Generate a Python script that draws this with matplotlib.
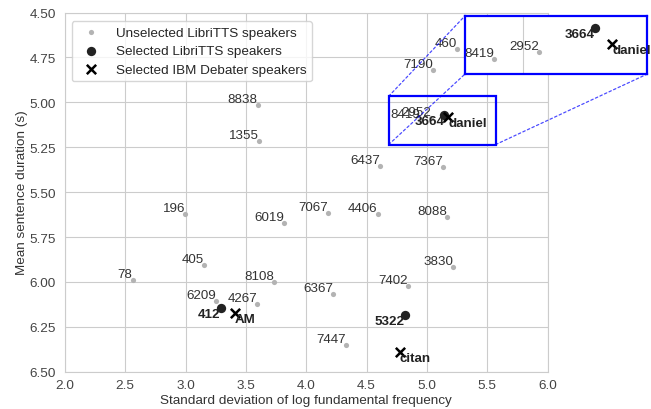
import matplotlib
matplotlib.use("Agg")
import matplotlib.pyplot as plt
import seaborn as sns
from matplotlib.patches import Rectangle, ConnectionPatch

# ---- data ----
unsel_names = ["460", "7190", "8838", "1355", "6437", "7367", "196", "6019", "7067",
               "4406", "8088", "405", "78", "8108", "3830", "7402", "6367", "6209",
               "4267", "7447", "8419", "2952"]
unsel_x = [5.246, 5.050, 3.597, 3.610, 4.610, 5.135, 2.997, 3.815, 4.177,
           4.591, 5.166, 3.154, 2.561, 3.732, 5.215, 4.842, 4.221, 3.251,
           3.594, 4.326, 4.941, 5.031]
unsel_y = [4.703, 4.820, 5.015, 5.214, 5.356, 5.359, 5.622, 5.674, 5.616,
           5.624, 5.639, 5.904, 5.989, 5.999, 5.919, 6.023, 6.069, 6.106,
           6.123, 6.351, 5.096, 5.090]

sel_names = ["412", "5322", "3664"]
sel_x = [3.290, 4.818, 5.143]
sel_y = [6.145, 6.184, 5.072]

ibm_names = ["AM", "citan", "daniel"]
ibm_x = [3.409, 4.776, 5.178]
ibm_y = [6.173, 6.389, 5.084]

xticks = [2.0, 2.5, 3.0, 3.5, 4.0, 4.5, 5.0, 5.5, 6.0]
yticks = [4.50, 4.75, 5.00, 5.25, 5.50, 5.75, 6.00, 6.25, 6.50]

# zoom region shown in inset and highlighted box
inset_xlim = (4.883, 5.248)
inset_ylim = (5.1073, 5.0625)
box_x0, box_y0, box_w, box_h = 4.683, 4.966, 0.886, 0.269

sns.set_style("whitegrid")
plt.rcParams['font.family'] = ['Liberation Sans', 'DejaVu Sans']
plt.rcParams['font.size'] = 9.7

fig = plt.figure(figsize=(6.51, 4.10), dpi=100)
ax = fig.add_axes([0.0998, 0.091, 0.7415, 0.876])

LBL = 9.6


def draw(a):
    a.scatter(unsel_x, unsel_y, s=14, color="#b3b3b3", zorder=3,
              label="Unselected LibriTTS speakers", linewidths=0)
    a.scatter(sel_x, sel_y, s=45, color="#222222", zorder=4,
              label="Selected LibriTTS speakers", linewidths=0)
    a.scatter(ibm_x, ibm_y, s=45, marker="x", color="black", zorder=5,
              label="Selected IBM Debater speakers", linewidths=1.8)
    for n, x, y in zip(unsel_names, unsel_x, unsel_y):
        a.annotate(n, (x, y), ha="right", va="bottom", fontsize=LBL,
                   color="#333333", zorder=6)
    for n, x, y in zip(sel_names, sel_x, sel_y):
        a.annotate(n, (x, y), ha="right", va="top", fontsize=LBL,
                   color="#222222", fontweight="bold", zorder=6)
    for n, x, y in zip(ibm_names, ibm_x, ibm_y):
        a.annotate(n, (x, y), ha="left", va="top", fontsize=LBL,
                   color="#222222", fontweight="bold", zorder=6)


draw(ax)
ax.set_xlim(2.0, 6.0)
ax.set_ylim(6.5, 4.5)
ax.set_xticks(xticks)
ax.set_yticks(yticks)
ax.set_xticklabels([f"{t:.1f}" for t in xticks])
ax.set_yticklabels([f"{t:.2f}" for t in yticks])
ax.tick_params(axis="x", pad=2, labelsize=9.7, colors="#444444")
ax.tick_params(axis="y", pad=3, labelsize=9.7, colors="#444444")
ax.set_xlabel("Standard deviation of log fundamental frequency", labelpad=2,
              color="#333333")
ax.set_ylabel("Mean sentence duration (s)", labelpad=1, color="#333333")
ax.legend(loc="upper left", frameon=True, fontsize=9.7,
          borderpad=0.4, labelspacing=0.45, handletextpad=0.9,
          bbox_to_anchor=(0.0, 0.995))

ax.add_patch(Rectangle((box_x0, box_y0), box_w, box_h, fill=False,
                       edgecolor="blue", linewidth=1.6, zorder=7))

ins = fig.add_axes([0.7143, 0.817, 0.280, 0.142])
ins.set_zorder(10)
ins.set_facecolor("white")
ins.patch.set_alpha(1.0)
draw(ins)
ins.set_xlim(*inset_xlim)
ins.set_ylim(*inset_ylim)
ins.set_xticks([5.0])
ins.set_yticks([])
ins.tick_params(labelbottom=False, labelleft=False, length=0)
for sp in ins.spines.values():
    sp.set_edgecolor("blue")
    sp.set_linewidth(1.6)
    sp.set_visible(True)

corners = [((box_x0, box_y0), (0, 1)),
           ((box_x0, box_y0 + box_h), (0, 0)),
           ((box_x0 + box_w, box_y0 + box_h), (1, 0))]
for (xy_main, xy_ins) in corners:
    cp = ConnectionPatch(xyA=xy_main, coordsA=ax.transData,
                         xyB=xy_ins, coordsB=ins.transAxes,
                         color="blue", alpha=0.7, linestyle=(0, (2, 2)),
                         linewidth=0.9)
    fig.add_artist(cp)

fig.savefig("out.png", dpi=100)
